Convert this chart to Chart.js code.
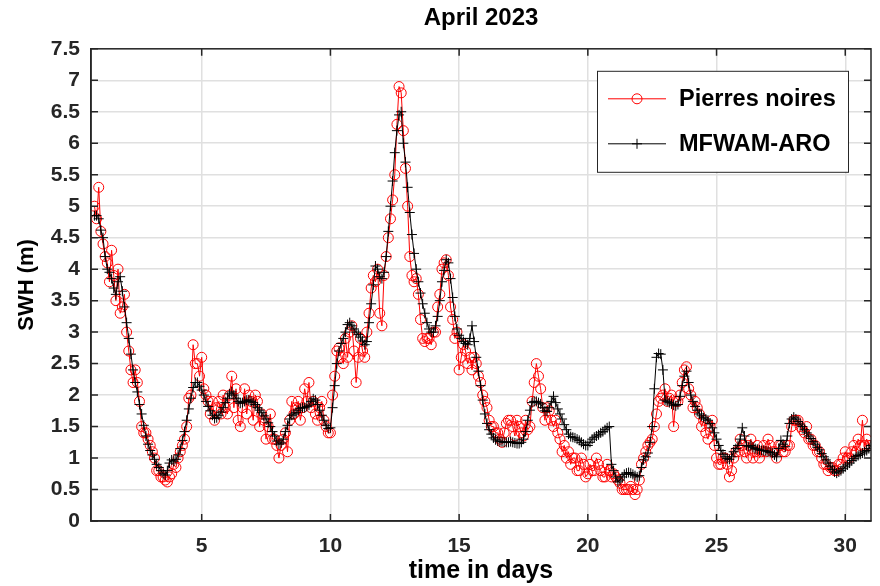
<!DOCTYPE html>
<html>
<head>
<meta charset="utf-8">
<script src="https://cdn.jsdelivr.net/npm/chart.js@4/dist/chart.umd.min.js"></script>
<style>
  html, body { margin: 0; padding: 0; background: #fff; }
  #wrap { width: 880px; height: 586px; }
</style>
</head>
<body>
<div id="wrap"><canvas id="myChart" width="880" height="586"></canvas></div>
<script>
// samples every 2 hours, first one at day 10/12
const startDay = 10 / 12;
const stepDay = 1 / 12;

// buoy observations (one row per day)
const pierresNoires = [
  5.0, 4.8,
  5.3, 4.6, 4.4, 4.2, 4.1, 3.8, 4.3, 3.9, 3.5, 4.0, 3.3, 3.4,
  3.6, 3.0, 2.7, 2.4, 2.2, 2.4, 2.2, 1.9, 1.5, 1.4, 1.4, 1.3,
  1.2, 1.1, 1.0, 0.8, 0.8, 0.7, 0.7, 0.65, 0.62, 0.7, 0.75, 0.9,
  0.85, 1.0, 1.1, 1.2, 1.3, 1.5, 1.95, 2.0, 2.8, 2.5, 2.5, 2.3,
  2.6, 2.1, 2.0, 1.9, 1.7, 1.9, 1.6, 1.8, 1.9, 1.7, 2.0, 1.8,
  1.7, 2.0, 2.3, 1.8, 2.1, 1.6, 1.5, 1.8, 2.1, 1.7, 2.0, 1.9,
  1.6, 2.0, 1.9, 1.5, 1.7, 1.6, 1.3, 1.5, 1.7, 1.3, 1.3, 1.2,
  1.0, 1.2, 1.3, 1.4, 1.1, 1.6, 1.9, 1.7, 1.8, 1.9, 1.6, 1.8,
  2.1, 1.9, 2.2, 1.8, 1.9, 1.7, 1.6, 1.8, 1.9, 1.6, 1.5, 1.4,
  1.4, 2.0, 2.3, 2.7, 2.75, 2.6, 2.5, 2.9, 2.6, 3.0, 3.1, 2.7,
  2.2, 2.6, 2.9, 2.7, 2.6, 3.0, 3.3, 3.7, 3.9, 3.8, 4.0, 3.3,
  3.1, 3.9, 4.2, 4.5, 4.8, 5.1, 5.5, 6.3, 6.9, 6.8, 6.2, 5.6,
  5.0, 4.2, 3.9, 3.8, 3.85, 3.6, 3.2, 2.9, 2.85, 2.9, 2.9, 2.8,
  3.0, 3.0, 3.4, 3.6, 4.0, 4.1, 4.15, 3.9, 3.4, 3.2, 2.9, 3.0,
  2.4, 2.6, 2.8, 2.7, 2.5, 2.6, 2.4, 2.6, 2.5, 2.3, 2.2, 2.0,
  1.9, 1.8, 1.6, 1.5, 1.5, 1.4, 1.4, 1.3, 1.25, 1.4, 1.55, 1.6,
  1.6, 1.5, 1.35, 1.6, 1.5, 1.4, 1.35, 1.6, 1.45, 1.5, 1.9, 2.2,
  2.5, 2.3, 2.1, 1.8, 1.6, 1.8, 1.75, 1.6, 1.5, 1.6, 1.4, 1.3,
  1.1, 1.2, 1.0, 1.1, 0.9, 1.0, 1.0, 0.8, 0.8, 1.0, 0.9, 0.7,
  0.75, 0.9, 0.8, 0.8, 1.0, 0.9, 0.8, 0.7, 0.7, 0.9, 0.8, 0.7,
  0.75, 0.7, 0.65, 0.6, 0.5, 0.5, 0.5, 0.5, 0.55, 0.5, 0.42, 0.5,
  0.65, 0.9, 1.0, 1.1, 1.2, 1.25, 1.3, 1.5, 1.7, 1.9, 1.95, 2.0,
  2.1, 1.9, 1.95, 2.0, 1.5, 1.9, 1.9, 2.0, 2.2, 2.4, 2.45, 2.1,
  2.0, 1.8, 1.9, 1.8, 1.7, 1.5, 1.6, 1.4, 1.3, 1.5, 1.6, 1.2,
  1.0, 0.9, 0.9, 1.0, 1.0, 0.9, 0.7, 0.8, 1.0, 1.1, 1.1, 1.3,
  1.2, 1.1, 1.0, 1.2, 1.3, 1.0, 1.1, 1.2, 1.0, 1.1, 1.2, 1.1,
  1.3, 1.2, 1.1, 1.1, 1.0, 1.2, 1.2, 1.1, 1.1, 1.2, 1.2, 1.5,
  1.6, 1.6, 1.6, 1.5, 1.45, 1.4, 1.5, 1.3, 1.3, 1.2, 1.2, 1.1,
  1.1, 1.0, 0.9, 0.9, 0.8, 0.85, 0.85, 0.8, 0.8, 0.9, 0.9, 1.0,
  1.1, 1.0, 1.0, 1.1, 1.2, 1.1, 1.3, 1.2, 1.6, 1.2, 1.3, 1.2,
  1.2
];

// model run (one row per day)
const mfwamAro = [
  4.85, 4.85,
  4.8, 4.62, 4.5, 4.2, 4.0, 3.95, 3.85, 3.7, 3.6, 3.8, 3.88, 3.65,
  3.4, 3.15, 2.9, 2.65, 2.4, 2.2, 2.05, 1.85, 1.7, 1.52, 1.35, 1.22,
  1.12, 1.05, 0.98, 0.9, 0.85, 0.8, 0.75, 0.73, 0.8, 0.92, 0.97, 0.95,
  0.98, 1.05, 1.15, 1.28, 1.42, 1.6, 1.78, 1.95, 2.12, 2.2, 2.2, 2.14,
  2.08, 2.0, 1.9, 1.82, 1.75, 1.68, 1.63, 1.64, 1.68, 1.73, 1.8, 1.88,
  1.95, 2.02, 2.05, 2.0, 1.95, 1.9, 1.87, 1.88, 1.9, 1.92, 1.92, 1.9,
  1.88, 1.85, 1.8, 1.76, 1.72, 1.67, 1.62, 1.56, 1.5, 1.42, 1.35, 1.27,
  1.22, 1.24, 1.3, 1.42, 1.52, 1.62, 1.68, 1.7, 1.72, 1.76, 1.79, 1.8,
  1.8, 1.82, 1.84, 1.9, 1.94, 1.92, 1.85, 1.76, 1.68, 1.6, 1.52, 1.47,
  1.48, 1.8, 2.15, 2.5, 2.7, 2.82, 2.9, 3.0, 3.12, 3.15, 3.1, 3.05,
  3.0, 2.96, 2.92, 2.86, 2.8, 2.85, 3.15, 3.45, 3.75, 4.05, 4.0, 3.88,
  3.85, 3.95, 4.2, 4.6, 5.0, 5.4, 5.85, 6.2, 6.45, 6.5, 6.0, 5.7,
  5.3, 4.9, 4.55, 4.25, 4.0, 3.8, 3.62, 3.45, 3.3, 3.15, 3.05, 3.0,
  3.0, 3.1, 3.25, 3.5, 3.8, 3.98, 4.15, 4.1, 3.85, 3.55, 3.25, 3.05,
  2.95, 2.9, 2.85, 2.82, 2.8, 2.9, 3.1, 2.85, 2.6, 2.38, 2.15, 1.92,
  1.7, 1.55, 1.45, 1.38, 1.32, 1.29, 1.27, 1.26, 1.26, 1.25, 1.25, 1.25,
  1.26, 1.25, 1.24, 1.23, 1.23, 1.25, 1.3, 1.42, 1.6, 1.76, 1.88, 1.9,
  1.9, 1.88, 1.86, 1.8, 1.75, 1.74, 1.8, 1.9, 1.98, 1.88, 1.78, 1.7,
  1.62, 1.53, 1.45, 1.38, 1.34, 1.33, 1.32, 1.3, 1.28, 1.25, 1.22, 1.2,
  1.2, 1.25, 1.3, 1.33, 1.35, 1.37, 1.4, 1.42, 1.45, 1.48, 1.5, 0.9,
  0.8, 0.7, 0.62, 0.65, 0.7, 0.74, 0.76, 0.77, 0.76, 0.74, 0.72, 0.7,
  0.72, 0.85, 0.97, 1.02, 1.08, 1.25, 1.5, 2.1, 2.6, 2.66, 2.65, 2.4,
  1.92, 1.9, 1.88, 1.86, 1.84, 1.83, 1.85, 1.98, 2.15, 2.3, 2.38, 2.2,
  2.0, 1.9, 1.82, 1.76, 1.7, 1.67, 1.64, 1.62, 1.6, 1.55, 1.48, 1.4,
  1.3, 1.2, 1.12, 1.06, 1.02, 0.99, 0.98, 1.02, 1.1, 1.15, 1.2, 1.3,
  1.48, 1.35, 1.2, 1.18, 1.2, 1.17, 1.15, 1.14, 1.13, 1.12, 1.12, 1.11,
  1.1, 1.09, 1.08, 1.05, 1.02, 1.15, 1.28, 1.22, 1.18, 1.35, 1.55, 1.62,
  1.65, 1.62, 1.58, 1.54, 1.5, 1.45, 1.4, 1.35, 1.31, 1.26, 1.22, 1.17,
  1.13, 1.07, 1.02, 0.97, 0.92, 0.87, 0.82, 0.78, 0.76, 0.78, 0.8, 0.83,
  0.86, 0.89, 0.92, 0.96, 0.99, 1.02, 1.04, 1.06, 1.08, 1.1, 1.12, 1.15,
  1.2
];

const seriesNames = ["Pierres noires", "MFWAM-ARO"];
const xTicks = [5, 10, 15, 20, 25, 30];
const yTicks = [0, 0.5, 1, 1.5, 2, 2.5, 3, 3.5, 4, 4.5, 5, 5.5, 6, 6.5, 7, 7.5];

const axisColor = "#262626";
const fontFamily = "'Liberation Sans', Arial, Helvetica, sans-serif";

function toPoints(values) {
  return values.map((v, i) => ({ x: startDay + i * stepDay, y: v }));
}

// inward tick marks and the closed box, like a matlab axes
const boxTicks = {
  id: "boxTicks",
  afterDraw(chart) {
    const ctx = chart.ctx;
    const a = chart.chartArea;
    const len = 7;
    ctx.save();
    ctx.strokeStyle = axisColor;
    ctx.lineWidth = 1.5;
    ctx.beginPath();
    chart.scales.y.ticks.forEach((t) => {
      const py = chart.scales.y.getPixelForValue(t.value);
      ctx.moveTo(a.left, py);
      ctx.lineTo(a.left + len, py);
      ctx.moveTo(a.right, py);
      ctx.lineTo(a.right - len, py);
    });
    chart.scales.x.ticks.forEach((t) => {
      const px = chart.scales.x.getPixelForValue(t.value);
      ctx.moveTo(px, a.bottom);
      ctx.lineTo(px, a.bottom - len);
      ctx.moveTo(px, a.top);
      ctx.lineTo(px, a.top + len);
    });
    ctx.stroke();
    ctx.strokeRect(a.left, a.top, a.right - a.left, a.bottom - a.top);
    ctx.restore();
  },
};

// legend box in the upper right corner of the axes
const boxLegend = {
  id: "boxLegend",
  afterDraw(chart) {
    const ctx = chart.ctx;
    const a = chart.chartArea;
    const x0 = a.right - 274;
    const y0 = a.top + 22;
    const w = 251;
    const h = 101;
    ctx.save();
    ctx.fillStyle = "#fff";
    ctx.fillRect(x0, y0, w, h);
    ctx.strokeStyle = axisColor;
    ctx.lineWidth = 1;
    ctx.strokeRect(x0 + 0.5, y0 + 0.5, w, h);
    const rows = [y0 + 28, y0 + 73];
    chart.data.datasets.forEach((ds, i) => {
      const y = rows[i];
      ctx.strokeStyle = ds.borderColor;
      ctx.lineWidth = ds.borderWidth;
      ctx.beginPath();
      ctx.moveTo(x0 + 11, y);
      ctx.lineTo(x0 + 69, y);
      ctx.stroke();
      ctx.strokeStyle = ds.pointBorderColor;
      ctx.fillStyle = "rgba(0,0,0,0)";
      Chart.helpers.drawPoint(ctx, {
        pointStyle: ds.pointStyle,
        radius: ds.pointRadius,
        rotation: 0,
        borderWidth: 1,
      }, x0 + 40, y);
      ctx.fillStyle = "#000";
      ctx.font = "bold 23.5px " + fontFamily;
      ctx.textBaseline = "middle";
      ctx.textAlign = "left";
      ctx.fillText(ds.label, x0 + 82, y + 1);
    });
    ctx.restore();
  },
};

Chart.defaults.font.family = fontFamily;
Chart.defaults.font.weight = "bold";
Chart.defaults.color = axisColor;

const myChart = new Chart(document.getElementById("myChart"), {
  type: "line",
  data: {
    datasets: [
      {
        label: seriesNames[0],
        data: toPoints(pierresNoires),
        borderColor: "#ff0000",
        borderWidth: 1,
        pointStyle: "circle",
        pointRadius: 5,
        pointBorderColor: "#ff0000",
        pointBackgroundColor: "rgba(0,0,0,0)",
        pointBorderWidth: 1,
        order: 2,
      },
      {
        label: seriesNames[1],
        data: toPoints(mfwamAro),
        borderColor: "#000000",
        borderWidth: 1,
        pointStyle: "cross",
        pointRadius: 5,
        pointBorderColor: "#000000",
        pointBorderWidth: 1,
        order: 1,
      },
    ],
  },
  options: {
    responsive: false,
    animation: false,
    layout: { padding: { left: 0, right: 9, top: 0, bottom: 0 } },
    elements: { line: { tension: 0 } },
    plugins: {
      legend: { display: false },
      tooltip: { enabled: false },
      title: {
        display: true,
        text: "April 2023",
        fullSize: false,
        color: "#000",
        font: { size: 24, weight: "bold" },
        padding: { top: 4, bottom: 16 },
      },
    },
    scales: {
      x: {
        type: "linear",
        min: 0.7,
        max: 31,
        afterBuildTicks: (s) => { s.ticks = xTicks.map((v) => ({ value: v })); },
        afterFit: (s) => { s.height = 65; },
        ticks: { font: { size: 21 }, padding: 13, maxRotation: 0, autoSkip: false,
                 callback: (v) => String(v) },
        grid: { color: "#e0e0e0", lineWidth: 1.5, drawTicks: false },
        border: { display: true, color: axisColor, width: 1.5 },
        title: { display: true, text: "time in days", color: "#000",
                 font: { size: 25, weight: "bold" }, padding: { top: 0, bottom: 0 } },
      },
      y: {
        min: 0,
        max: 7.5,
        afterBuildTicks: (s) => { s.ticks = yTicks.map((v) => ({ value: v })); },
        afterFit: (s) => { s.width = 91; },
        ticks: { font: { size: 21 }, padding: 11, autoSkip: false,
                 callback: (v) => String(v) },
        grid: { color: "#e0e0e0", lineWidth: 1.5, drawTicks: false },
        border: { display: true, color: axisColor, width: 1.5 },
        title: { display: true, text: "SWH (m)", color: "#000",
                 font: { size: 22, weight: "bold" }, padding: { top: 14, bottom: 0 } },
      },
    },
  },
  plugins: [boxTicks, boxLegend],
});
</script>
</body>
</html>
